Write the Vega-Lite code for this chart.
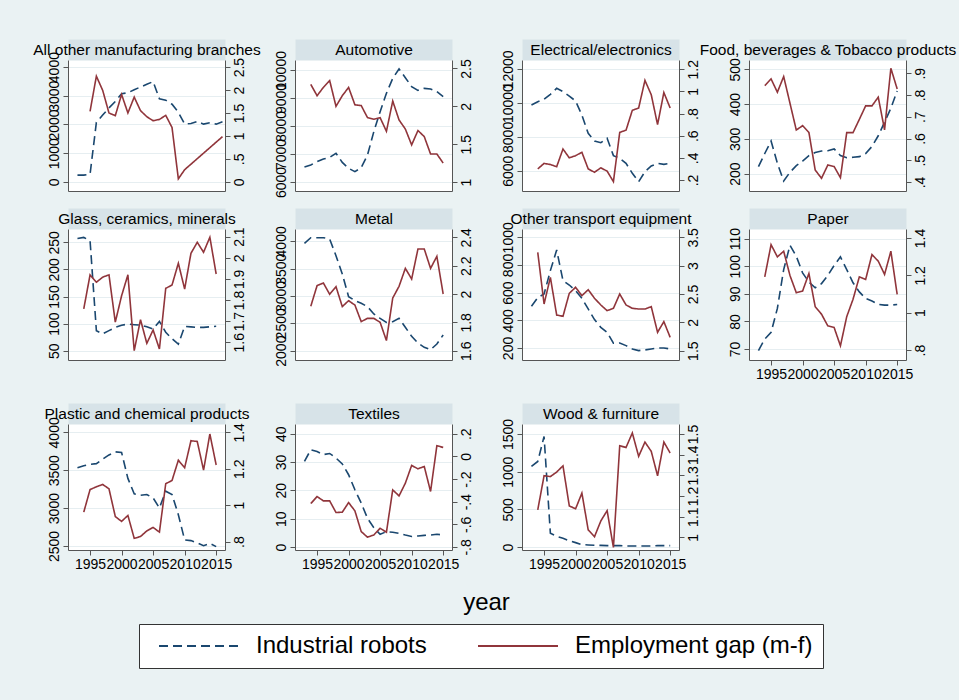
{
"$schema":"https://vega.github.io/schema/vega-lite/v6.json",
"background":"#eaf2f3",
"padding":{"left":21,"top":42,"right":5,"bottom":32},
"config":{"font":"Liberation Sans","view":{"fill":"white","stroke":null},
"axis":{"labelFont":"Liberation Sans","labelColor":"#000","titleFont":"Liberation Sans","titleColor":"#000","domainColor":"#555","tickColor":"#555","titleFontWeight":"normal"},
"legend":{"labelFont":"Liberation Sans","labelColor":"#000"}},
"datasets":{"d":[
{"p":"all","s":"R","yr":1993,"v":235},{"p":"all","s":"R","yr":1994,"v":235},{"p":"all","s":"R","yr":1995,"v":270},{"p":"all","s":"R","yr":1996,"v":2071},{"p":"all","s":"R","yr":1997,"v":2329},{"p":"all","s":"R","yr":1998,"v":2576},{"p":"all","s":"R","yr":1999,"v":2800},{"p":"all","s":"R","yr":2000,"v":3071},{"p":"all","s":"R","yr":2001,"v":3106},{"p":"all","s":"R","yr":2002,"v":3212},{"p":"all","s":"R","yr":2003,"v":3306},{"p":"all","s":"R","yr":2004,"v":3400},{"p":"all","s":"R","yr":2005,"v":3494},{"p":"all","s":"R","yr":2006,"v":2894},{"p":"all","s":"R","yr":2007,"v":2847},{"p":"all","s":"R","yr":2008,"v":2706},{"p":"all","s":"R","yr":2009,"v":2424},{"p":"all","s":"R","yr":2010,"v":2012},{"p":"all","s":"R","yr":2011,"v":2035},{"p":"all","s":"R","yr":2012,"v":2106},{"p":"all","s":"R","yr":2013,"v":2012},{"p":"all","s":"R","yr":2014,"v":2059},{"p":"all","s":"R","yr":2015,"v":2012},{"p":"all","s":"R","yr":2016,"v":2094},
{"p":"all","s":"G","yr":1995,"v":1.537},{"p":"all","s":"G","yr":1996,"v":2.301},{"p":"all","s":"G","yr":1997,"v":1.993},{"p":"all","s":"G","yr":1998,"v":1.5},{"p":"all","s":"G","yr":1999,"v":1.441},{"p":"all","s":"G","yr":2000,"v":1.904},{"p":"all","s":"G","yr":2001,"v":1.5},{"p":"all","s":"G","yr":2002,"v":1.846},{"p":"all","s":"G","yr":2003,"v":1.551},{"p":"all","s":"G","yr":2004,"v":1.419},{"p":"all","s":"G","yr":2005,"v":1.331},{"p":"all","s":"G","yr":2006,"v":1.36},{"p":"all","s":"G","yr":2007,"v":1.449},{"p":"all","s":"G","yr":2008,"v":1.184},{"p":"all","s":"G","yr":2009,"v":0.066},{"p":"all","s":"G","yr":2010,"v":0.265},{"p":"all","s":"G","yr":2016,"v":0.985},
{"p":"auto","s":"R","yr":1993,"v":6536},{"p":"auto","s":"R","yr":1994,"v":6607},{"p":"auto","s":"R","yr":1995,"v":6726},{"p":"auto","s":"R","yr":1996,"v":6821},{"p":"auto","s":"R","yr":1997,"v":6881},{"p":"auto","s":"R","yr":1998,"v":7024},{"p":"auto","s":"R","yr":1999,"v":6702},{"p":"auto","s":"R","yr":2000,"v":6488},{"p":"auto","s":"R","yr":2001,"v":6369},{"p":"auto","s":"R","yr":2002,"v":6512},{"p":"auto","s":"R","yr":2003,"v":6964},{"p":"auto","s":"R","yr":2004,"v":7798},{"p":"auto","s":"R","yr":2005,"v":8512},{"p":"auto","s":"R","yr":2006,"v":9167},{"p":"auto","s":"R","yr":2007,"v":9702},{"p":"auto","s":"R","yr":2008,"v":10036},{"p":"auto","s":"R","yr":2009,"v":9726},{"p":"auto","s":"R","yr":2010,"v":9405},{"p":"auto","s":"R","yr":2011,"v":9274},{"p":"auto","s":"R","yr":2012,"v":9345},{"p":"auto","s":"R","yr":2013,"v":9321},{"p":"auto","s":"R","yr":2014,"v":9226},{"p":"auto","s":"R","yr":2015,"v":9048},
{"p":"auto","s":"G","yr":1994,"v":2.29},{"p":"auto","s":"G","yr":1995,"v":2.14},{"p":"auto","s":"G","yr":1996,"v":2.25},{"p":"auto","s":"G","yr":1997,"v":2.34},{"p":"auto","s":"G","yr":1998,"v":2.0},{"p":"auto","s":"G","yr":1999,"v":2.14},{"p":"auto","s":"G","yr":2000,"v":2.25},{"p":"auto","s":"G","yr":2001,"v":2.02},{"p":"auto","s":"G","yr":2002,"v":2.01},{"p":"auto","s":"G","yr":2003,"v":1.85},{"p":"auto","s":"G","yr":2004,"v":1.83},{"p":"auto","s":"G","yr":2005,"v":1.85},{"p":"auto","s":"G","yr":2006,"v":1.67},{"p":"auto","s":"G","yr":2007,"v":2.07},{"p":"auto","s":"G","yr":2008,"v":1.82},{"p":"auto","s":"G","yr":2009,"v":1.70},{"p":"auto","s":"G","yr":2010,"v":1.49},{"p":"auto","s":"G","yr":2011,"v":1.68},{"p":"auto","s":"G","yr":2012,"v":1.60},{"p":"auto","s":"G","yr":2013,"v":1.37},{"p":"auto","s":"G","yr":2014,"v":1.37},{"p":"auto","s":"G","yr":2015,"v":1.25},
{"p":"elec","s":"R","yr":1993,"v":9890},{"p":"elec","s":"R","yr":1994,"v":10087},{"p":"elec","s":"R","yr":1995,"v":10225},{"p":"elec","s":"R","yr":1996,"v":10521},{"p":"elec","s":"R","yr":1997,"v":10877},{"p":"elec","s":"R","yr":1998,"v":10680},{"p":"elec","s":"R","yr":1999,"v":10420},{"p":"elec","s":"R","yr":2000,"v":10126},{"p":"elec","s":"R","yr":2001,"v":9297},{"p":"elec","s":"R","yr":2002,"v":8211},{"p":"elec","s":"R","yr":2003,"v":7757},{"p":"elec","s":"R","yr":2004,"v":7658},{"p":"elec","s":"R","yr":2005,"v":7915},{"p":"elec","s":"R","yr":2006,"v":6890},{"p":"elec","s":"R","yr":2007,"v":6730},{"p":"elec","s":"R","yr":2008,"v":6434},{"p":"elec","s":"R","yr":2009,"v":5842},{"p":"elec","s":"R","yr":2010,"v":5348},{"p":"elec","s":"R","yr":2011,"v":5940},{"p":"elec","s":"R","yr":2012,"v":6276},{"p":"elec","s":"R","yr":2013,"v":6434},{"p":"elec","s":"R","yr":2014,"v":6375},{"p":"elec","s":"R","yr":2015,"v":6434},
{"p":"elec","s":"G","yr":1994,"v":0.30},{"p":"elec","s":"G","yr":1995,"v":0.35},{"p":"elec","s":"G","yr":1996,"v":0.34},{"p":"elec","s":"G","yr":1997,"v":0.32},{"p":"elec","s":"G","yr":1998,"v":0.48},{"p":"elec","s":"G","yr":1999,"v":0.40},{"p":"elec","s":"G","yr":2000,"v":0.42},{"p":"elec","s":"G","yr":2001,"v":0.45},{"p":"elec","s":"G","yr":2002,"v":0.30},{"p":"elec","s":"G","yr":2003,"v":0.27},{"p":"elec","s":"G","yr":2004,"v":0.31},{"p":"elec","s":"G","yr":2005,"v":0.28},{"p":"elec","s":"G","yr":2006,"v":0.185},{"p":"elec","s":"G","yr":2007,"v":0.63},{"p":"elec","s":"G","yr":2008,"v":0.65},{"p":"elec","s":"G","yr":2009,"v":0.83},{"p":"elec","s":"G","yr":2010,"v":0.85},{"p":"elec","s":"G","yr":2011,"v":1.10},{"p":"elec","s":"G","yr":2012,"v":0.97},{"p":"elec","s":"G","yr":2013,"v":0.70},{"p":"elec","s":"G","yr":2014,"v":0.99},{"p":"elec","s":"G","yr":2015,"v":0.85},
{"p":"food","s":"R","yr":1993,"v":220},{"p":"food","s":"R","yr":1994,"v":258},{"p":"food","s":"R","yr":1995,"v":294},{"p":"food","s":"R","yr":1996,"v":230},{"p":"food","s":"R","yr":1997,"v":179},{"p":"food","s":"R","yr":1998,"v":204},{"p":"food","s":"R","yr":1999,"v":223},{"p":"food","s":"R","yr":2000,"v":236},{"p":"food","s":"R","yr":2001,"v":252},{"p":"food","s":"R","yr":2002,"v":261},{"p":"food","s":"R","yr":2003,"v":265},{"p":"food","s":"R","yr":2004,"v":266},{"p":"food","s":"R","yr":2005,"v":271},{"p":"food","s":"R","yr":2006,"v":252},{"p":"food","s":"R","yr":2007,"v":246},{"p":"food","s":"R","yr":2008,"v":247},{"p":"food","s":"R","yr":2009,"v":249},{"p":"food","s":"R","yr":2010,"v":258},{"p":"food","s":"R","yr":2011,"v":278},{"p":"food","s":"R","yr":2012,"v":309},{"p":"food","s":"R","yr":2013,"v":348},{"p":"food","s":"R","yr":2014,"v":388},{"p":"food","s":"R","yr":2015,"v":438},
{"p":"food","s":"G","yr":1994,"v":0.843},{"p":"food","s":"G","yr":1995,"v":0.874},{"p":"food","s":"G","yr":1996,"v":0.813},{"p":"food","s":"G","yr":1997,"v":0.885},{"p":"food","s":"G","yr":1998,"v":0.762},{"p":"food","s":"G","yr":1999,"v":0.639},{"p":"food","s":"G","yr":2000,"v":0.659},{"p":"food","s":"G","yr":2001,"v":0.628},{"p":"food","s":"G","yr":2002,"v":0.455},{"p":"food","s":"G","yr":2003,"v":0.417},{"p":"food","s":"G","yr":2004,"v":0.478},{"p":"food","s":"G","yr":2005,"v":0.471},{"p":"food","s":"G","yr":2006,"v":0.42},{"p":"food","s":"G","yr":2007,"v":0.627},{"p":"food","s":"G","yr":2008,"v":0.627},{"p":"food","s":"G","yr":2009,"v":0.688},{"p":"food","s":"G","yr":2010,"v":0.75},{"p":"food","s":"G","yr":2011,"v":0.75},{"p":"food","s":"G","yr":2012,"v":0.79},{"p":"food","s":"G","yr":2013,"v":0.64},{"p":"food","s":"G","yr":2014,"v":0.923},{"p":"food","s":"G","yr":2015,"v":0.828},
{"p":"glass","s":"R","yr":1993,"v":257},{"p":"glass","s":"R","yr":1994,"v":259},{"p":"glass","s":"R","yr":1995,"v":253},{"p":"glass","s":"R","yr":1996,"v":87},{"p":"glass","s":"R","yr":1997,"v":81},{"p":"glass","s":"R","yr":1998,"v":87},{"p":"glass","s":"R","yr":1999,"v":93},{"p":"glass","s":"R","yr":2000,"v":97},{"p":"glass","s":"R","yr":2001,"v":99},{"p":"glass","s":"R","yr":2002,"v":98},{"p":"glass","s":"R","yr":2003,"v":97},{"p":"glass","s":"R","yr":2004,"v":94},{"p":"glass","s":"R","yr":2005,"v":90},{"p":"glass","s":"R","yr":2006,"v":104},{"p":"glass","s":"R","yr":2007,"v":84},{"p":"glass","s":"R","yr":2008,"v":72},{"p":"glass","s":"R","yr":2009,"v":62},{"p":"glass","s":"R","yr":2010,"v":95},{"p":"glass","s":"R","yr":2011,"v":94},{"p":"glass","s":"R","yr":2012,"v":93},{"p":"glass","s":"R","yr":2013,"v":93},{"p":"glass","s":"R","yr":2014,"v":94},{"p":"glass","s":"R","yr":2015,"v":95},
{"p":"glass","s":"G","yr":1994,"v":1.758},{"p":"glass","s":"G","yr":1995,"v":1.919},{"p":"glass","s":"G","yr":1996,"v":1.884},{"p":"glass","s":"G","yr":1997,"v":1.908},{"p":"glass","s":"G","yr":1998,"v":1.919},{"p":"glass","s":"G","yr":1999,"v":1.695},{"p":"glass","s":"G","yr":2000,"v":1.82},{"p":"glass","s":"G","yr":2001,"v":1.919},{"p":"glass","s":"G","yr":2002,"v":1.56},{"p":"glass","s":"G","yr":2003,"v":1.707},{"p":"glass","s":"G","yr":2004,"v":1.595},{"p":"glass","s":"G","yr":2005,"v":1.658},{"p":"glass","s":"G","yr":2006,"v":1.568},{"p":"glass","s":"G","yr":2007,"v":1.855},{"p":"glass","s":"G","yr":2008,"v":1.871},{"p":"glass","s":"G","yr":2009,"v":1.974},{"p":"glass","s":"G","yr":2010,"v":1.852},{"p":"glass","s":"G","yr":2011,"v":2.021},{"p":"glass","s":"G","yr":2012,"v":2.073},{"p":"glass","s":"G","yr":2013,"v":2.026},{"p":"glass","s":"G","yr":2014,"v":2.097},{"p":"glass","s":"G","yr":2015,"v":1.923},
{"p":"metal","s":"R","yr":1993,"v":3963},{"p":"metal","s":"R","yr":1994,"v":4067},{"p":"metal","s":"R","yr":1995,"v":4067},{"p":"metal","s":"R","yr":1996,"v":4067},{"p":"metal","s":"R","yr":1997,"v":4043},{"p":"metal","s":"R","yr":1998,"v":3738},{"p":"metal","s":"R","yr":1999,"v":3402},{"p":"metal","s":"R","yr":2000,"v":2988},{"p":"metal","s":"R","yr":2001,"v":2915},{"p":"metal","s":"R","yr":2002,"v":2866},{"p":"metal","s":"R","yr":2003,"v":2805},{"p":"metal","s":"R","yr":2004,"v":2671},{"p":"metal","s":"R","yr":2005,"v":2591},{"p":"metal","s":"R","yr":2006,"v":2518},{"p":"metal","s":"R","yr":2007,"v":2530},{"p":"metal","s":"R","yr":2008,"v":2591},{"p":"metal","s":"R","yr":2009,"v":2427},{"p":"metal","s":"R","yr":2010,"v":2262},{"p":"metal","s":"R","yr":2011,"v":2140},{"p":"metal","s":"R","yr":2012,"v":2061},{"p":"metal","s":"R","yr":2013,"v":2018},{"p":"metal","s":"R","yr":2014,"v":2122},{"p":"metal","s":"R","yr":2015,"v":2287},
{"p":"metal","s":"G","yr":1994,"v":1.913},{"p":"metal","s":"G","yr":1995,"v":2.059},{"p":"metal","s":"G","yr":1996,"v":2.078},{"p":"metal","s":"G","yr":1997,"v":1.998},{"p":"metal","s":"G","yr":1998,"v":2.052},{"p":"metal","s":"G","yr":1999,"v":1.911},{"p":"metal","s":"G","yr":2000,"v":1.953},{"p":"metal","s":"G","yr":2001,"v":1.922},{"p":"metal","s":"G","yr":2002,"v":1.805},{"p":"metal","s":"G","yr":2003,"v":1.828},{"p":"metal","s":"G","yr":2004,"v":1.828},{"p":"metal","s":"G","yr":2005,"v":1.80},{"p":"metal","s":"G","yr":2006,"v":1.671},{"p":"metal","s":"G","yr":2007,"v":1.972},{"p":"metal","s":"G","yr":2008,"v":2.054},{"p":"metal","s":"G","yr":2009,"v":2.181},{"p":"metal","s":"G","yr":2010,"v":2.106},{"p":"metal","s":"G","yr":2011,"v":2.318},{"p":"metal","s":"G","yr":2012,"v":2.318},{"p":"metal","s":"G","yr":2013,"v":2.181},{"p":"metal","s":"G","yr":2014,"v":2.266},{"p":"metal","s":"G","yr":2015,"v":2.0},
{"p":"trans","s":"R","yr":1993,"v":501},{"p":"trans","s":"R","yr":1994,"v":564},{"p":"trans","s":"R","yr":1995,"v":590},{"p":"trans","s":"R","yr":1996,"v":759},{"p":"trans","s":"R","yr":1997,"v":908},{"p":"trans","s":"R","yr":1998,"v":687},{"p":"trans","s":"R","yr":1999,"v":655},{"p":"trans","s":"R","yr":2000,"v":614},{"p":"trans","s":"R","yr":2001,"v":559},{"p":"trans","s":"R","yr":2002,"v":482},{"p":"trans","s":"R","yr":2003,"v":405},{"p":"trans","s":"R","yr":2004,"v":349},{"p":"trans","s":"R","yr":2005,"v":313},{"p":"trans","s":"R","yr":2006,"v":234},{"p":"trans","s":"R","yr":2007,"v":236},{"p":"trans","s":"R","yr":2008,"v":217},{"p":"trans","s":"R","yr":2009,"v":193},{"p":"trans","s":"R","yr":2010,"v":181},{"p":"trans","s":"R","yr":2011,"v":186},{"p":"trans","s":"R","yr":2012,"v":193},{"p":"trans","s":"R","yr":2013,"v":200},{"p":"trans","s":"R","yr":2014,"v":200},{"p":"trans","s":"R","yr":2015,"v":193},
{"p":"trans","s":"G","yr":1994,"v":3.235},{"p":"trans","s":"G","yr":1995,"v":2.324},{"p":"trans","s":"G","yr":1996,"v":2.794},{"p":"trans","s":"G","yr":1997,"v":2.129},{"p":"trans","s":"G","yr":1998,"v":2.106},{"p":"trans","s":"G","yr":1999,"v":2.512},{"p":"trans","s":"G","yr":2000,"v":2.618},{"p":"trans","s":"G","yr":2001,"v":2.47},{"p":"trans","s":"G","yr":2002,"v":2.576},{"p":"trans","s":"G","yr":2003,"v":2.424},{"p":"trans","s":"G","yr":2004,"v":2.306},{"p":"trans","s":"G","yr":2005,"v":2.206},{"p":"trans","s":"G","yr":2006,"v":2.247},{"p":"trans","s":"G","yr":2007,"v":2.5},{"p":"trans","s":"G","yr":2008,"v":2.306},{"p":"trans","s":"G","yr":2009,"v":2.247},{"p":"trans","s":"G","yr":2010,"v":2.235},{"p":"trans","s":"G","yr":2011,"v":2.235},{"p":"trans","s":"G","yr":2012,"v":2.276},{"p":"trans","s":"G","yr":2013,"v":1.824},{"p":"trans","s":"G","yr":2014,"v":2.012},{"p":"trans","s":"G","yr":2015,"v":1.735},
{"p":"paper","s":"R","yr":1993,"v":69.4},{"p":"paper","s":"R","yr":1994,"v":73.6},{"p":"paper","s":"R","yr":1995,"v":76.0},{"p":"paper","s":"R","yr":1996,"v":84.7},{"p":"paper","s":"R","yr":1997,"v":98.8},{"p":"paper","s":"R","yr":1998,"v":107.6},{"p":"paper","s":"R","yr":1999,"v":103.6},{"p":"paper","s":"R","yr":2000,"v":97.6},{"p":"paper","s":"R","yr":2001,"v":94.3},{"p":"paper","s":"R","yr":2002,"v":92.2},{"p":"paper","s":"R","yr":2003,"v":93.7},{"p":"paper","s":"R","yr":2004,"v":96.7},{"p":"paper","s":"R","yr":2005,"v":100.3},{"p":"paper","s":"R","yr":2006,"v":103.4},{"p":"paper","s":"R","yr":2007,"v":98.8},{"p":"paper","s":"R","yr":2008,"v":94.0},{"p":"paper","s":"R","yr":2009,"v":90.7},{"p":"paper","s":"R","yr":2010,"v":88.3},{"p":"paper","s":"R","yr":2011,"v":87.4},{"p":"paper","s":"R","yr":2012,"v":86.2},{"p":"paper","s":"R","yr":2013,"v":85.9},{"p":"paper","s":"R","yr":2014,"v":85.9},{"p":"paper","s":"R","yr":2015,"v":86.1},
{"p":"paper","s":"G","yr":1994,"v":1.192},{"p":"paper","s":"G","yr":1995,"v":1.364},{"p":"paper","s":"G","yr":1996,"v":1.299},{"p":"paper","s":"G","yr":1997,"v":1.329},{"p":"paper","s":"G","yr":1998,"v":1.199},{"p":"paper","s":"G","yr":1999,"v":1.107},{"p":"paper","s":"G","yr":2000,"v":1.116},{"p":"paper","s":"G","yr":2001,"v":1.21},{"p":"paper","s":"G","yr":2002,"v":1.032},{"p":"paper","s":"G","yr":2003,"v":0.992},{"p":"paper","s":"G","yr":2004,"v":0.93},{"p":"paper","s":"G","yr":2005,"v":0.921},{"p":"paper","s":"G","yr":2006,"v":0.823},{"p":"paper","s":"G","yr":2007,"v":0.979},{"p":"paper","s":"G","yr":2008,"v":1.072},{"p":"paper","s":"G","yr":2009,"v":1.192},{"p":"paper","s":"G","yr":2010,"v":1.178},{"p":"paper","s":"G","yr":2011,"v":1.311},{"p":"paper","s":"G","yr":2012,"v":1.276},{"p":"paper","s":"G","yr":2013,"v":1.205},{"p":"paper","s":"G","yr":2014,"v":1.329},{"p":"paper","s":"G","yr":2015,"v":1.098},
{"p":"plast","s":"R","yr":1993,"v":3534},{"p":"plast","s":"R","yr":1994,"v":3560},{"p":"plast","s":"R","yr":1995,"v":3578},{"p":"plast","s":"R","yr":1996,"v":3587},{"p":"plast","s":"R","yr":1997,"v":3645},{"p":"plast","s":"R","yr":1998,"v":3702},{"p":"plast","s":"R","yr":1999,"v":3742},{"p":"plast","s":"R","yr":2000,"v":3733},{"p":"plast","s":"R","yr":2001,"v":3392},{"p":"plast","s":"R","yr":2002,"v":3188},{"p":"plast","s":"R","yr":2003,"v":3170},{"p":"plast","s":"R","yr":2004,"v":3179},{"p":"plast","s":"R","yr":2005,"v":3134},{"p":"plast","s":"R","yr":2006,"v":3001},{"p":"plast","s":"R","yr":2007,"v":3223},{"p":"plast","s":"R","yr":2008,"v":3179},{"p":"plast","s":"R","yr":2009,"v":2913},{"p":"plast","s":"R","yr":2010,"v":2580},{"p":"plast","s":"R","yr":2011,"v":2571},{"p":"plast","s":"R","yr":2012,"v":2540},{"p":"plast","s":"R","yr":2013,"v":2504},{"p":"plast","s":"R","yr":2014,"v":2535},{"p":"plast","s":"R","yr":2015,"v":2491},
{"p":"plast","s":"G","yr":1994,"v":0.962},{"p":"plast","s":"G","yr":1995,"v":1.086},{"p":"plast","s":"G","yr":1996,"v":1.101},{"p":"plast","s":"G","yr":1997,"v":1.114},{"p":"plast","s":"G","yr":1998,"v":1.090},{"p":"plast","s":"G","yr":1999,"v":0.938},{"p":"plast","s":"G","yr":2000,"v":0.911},{"p":"plast","s":"G","yr":2001,"v":0.944},{"p":"plast","s":"G","yr":2002,"v":0.818},{"p":"plast","s":"G","yr":2003,"v":0.828},{"p":"plast","s":"G","yr":2004,"v":0.859},{"p":"plast","s":"G","yr":2005,"v":0.878},{"p":"plast","s":"G","yr":2006,"v":0.852},{"p":"plast","s":"G","yr":2007,"v":1.118},{"p":"plast","s":"G","yr":2008,"v":1.136},{"p":"plast","s":"G","yr":2009,"v":1.247},{"p":"plast","s":"G","yr":2010,"v":1.206},{"p":"plast","s":"G","yr":2011,"v":1.354},{"p":"plast","s":"G","yr":2012,"v":1.350},{"p":"plast","s":"G","yr":2013,"v":1.193},{"p":"plast","s":"G","yr":2014,"v":1.391},{"p":"plast","s":"G","yr":2015,"v":1.221},
{"p":"text","s":"R","yr":1993,"v":30.2},{"p":"text","s":"R","yr":1994,"v":34.3},{"p":"text","s":"R","yr":1995,"v":33.7},{"p":"text","s":"R","yr":1996,"v":32.6},{"p":"text","s":"R","yr":1997,"v":33.0},{"p":"text","s":"R","yr":1998,"v":31.4},{"p":"text","s":"R","yr":1999,"v":29.3},{"p":"text","s":"R","yr":2000,"v":25.5},{"p":"text","s":"R","yr":2001,"v":20.2},{"p":"text","s":"R","yr":2002,"v":15.5},{"p":"text","s":"R","yr":2003,"v":10.1},{"p":"text","s":"R","yr":2004,"v":6.8},{"p":"text","s":"R","yr":2005,"v":4.5},{"p":"text","s":"R","yr":2006,"v":5.4},{"p":"text","s":"R","yr":2007,"v":5.2},{"p":"text","s":"R","yr":2008,"v":4.8},{"p":"text","s":"R","yr":2009,"v":4.2},{"p":"text","s":"R","yr":2010,"v":3.7},{"p":"text","s":"R","yr":2011,"v":3.9},{"p":"text","s":"R","yr":2012,"v":4.1},{"p":"text","s":"R","yr":2013,"v":4.2},{"p":"text","s":"R","yr":2014,"v":4.5},{"p":"text","s":"R","yr":2015,"v":4.2},
{"p":"text","s":"G","yr":1994,"v":-0.417},{"p":"text","s":"G","yr":1995,"v":-0.355},{"p":"text","s":"G","yr":1996,"v":-0.393},{"p":"text","s":"G","yr":1997,"v":-0.393},{"p":"text","s":"G","yr":1998,"v":-0.496},{"p":"text","s":"G","yr":1999,"v":-0.493},{"p":"text","s":"G","yr":2000,"v":-0.408},{"p":"text","s":"G","yr":2001,"v":-0.481},{"p":"text","s":"G","yr":2002,"v":-0.664},{"p":"text","s":"G","yr":2003,"v":-0.714},{"p":"text","s":"G","yr":2004,"v":-0.694},{"p":"text","s":"G","yr":2005,"v":-0.635},{"p":"text","s":"G","yr":2006,"v":-0.670},{"p":"text","s":"G","yr":2007,"v":-0.296},{"p":"text","s":"G","yr":2008,"v":-0.349},{"p":"text","s":"G","yr":2009,"v":-0.237},{"p":"text","s":"G","yr":2010,"v":-0.08},{"p":"text","s":"G","yr":2011,"v":-0.11},{"p":"text","s":"G","yr":2012,"v":-0.089},{"p":"text","s":"G","yr":2013,"v":-0.310},{"p":"text","s":"G","yr":2014,"v":0.094},{"p":"text","s":"G","yr":2015,"v":0.079},
{"p":"wood","s":"R","yr":1993,"v":1069},{"p":"wood","s":"R","yr":1994,"v":1136},{"p":"wood","s":"R","yr":1995,"v":1468},{"p":"wood","s":"R","yr":1996,"v":182},{"p":"wood","s":"R","yr":1997,"v":142},{"p":"wood","s":"R","yr":1998,"v":115},{"p":"wood","s":"R","yr":1999,"v":84},{"p":"wood","s":"R","yr":2000,"v":58},{"p":"wood","s":"R","yr":2001,"v":31},{"p":"wood","s":"R","yr":2002,"v":27},{"p":"wood","s":"R","yr":2003,"v":22},{"p":"wood","s":"R","yr":2004,"v":22},{"p":"wood","s":"R","yr":2005,"v":18},{"p":"wood","s":"R","yr":2006,"v":18},{"p":"wood","s":"R","yr":2007,"v":18},{"p":"wood","s":"R","yr":2008,"v":13},{"p":"wood","s":"R","yr":2009,"v":13},{"p":"wood","s":"R","yr":2010,"v":13},{"p":"wood","s":"R","yr":2011,"v":13},{"p":"wood","s":"R","yr":2012,"v":13},{"p":"wood","s":"R","yr":2013,"v":18},{"p":"wood","s":"R","yr":2014,"v":18},{"p":"wood","s":"R","yr":2015,"v":18},
{"p":"wood","s":"G","yr":1994,"v":1.133},{"p":"wood","s":"G","yr":1995,"v":1.298},{"p":"wood","s":"G","yr":1996,"v":1.294},{"p":"wood","s":"G","yr":1997,"v":1.316},{"p":"wood","s":"G","yr":1998,"v":1.346},{"p":"wood","s":"G","yr":1999,"v":1.152},{"p":"wood","s":"G","yr":2000,"v":1.138},{"p":"wood","s":"G","yr":2001,"v":1.214},{"p":"wood","s":"G","yr":2002,"v":1.036},{"p":"wood","s":"G","yr":2003,"v":1.003},{"p":"wood","s":"G","yr":2004,"v":1.079},{"p":"wood","s":"G","yr":2005,"v":1.129},{"p":"wood","s":"G","yr":2006,"v":0.951},{"p":"wood","s":"G","yr":2007,"v":1.443},{"p":"wood","s":"G","yr":2008,"v":1.435},{"p":"wood","s":"G","yr":2009,"v":1.505},{"p":"wood","s":"G","yr":2010,"v":1.392},{"p":"wood","s":"G","yr":2011,"v":1.461},{"p":"wood","s":"G","yr":2012,"v":1.416},{"p":"wood","s":"G","yr":2013,"v":1.298},{"p":"wood","s":"G","yr":2014,"v":1.461},{"p":"wood","s":"G","yr":2015,"v":1.408}
]},
"spacing":13,
"vconcat":[
{"hconcat":[
{"width":157,"height":131,"layer":[
{"data":{"name":"d"},"transform":[{"filter":"datum.p=='all'&&datum.s=='R'"}],"mark":{"type":"line","strokeWidth":1.6},
"encoding":{"x":{"field":"yr","type":"quantitative","scale":{"domain":[1991.5,2016.4],"nice":false,"zero":false},"axis":{"orient":"bottom","ticks":false,"labels":false,"grid":false,"title":null}},
"y":{"field":"v","type":"quantitative","scale":{"domain":[-318,4247],"nice":false,"zero":false},"axis":{"orient":"left","values":[0,1000,2000,3000,4000],"labelExpr":"replace(toString(datum.value),'0.','.')","labelAngle":270,"labelAlign":"center","labelBaseline":"bottom","labelFontSize":14,"labelOverlap":false,"labelFlush":false,"labelPadding":2,"tickSize":5,"grid":true,"gridColor":"#e6eef1","title":"x","titleColor":"rgba(0,0,0,0)","titleFontSize":10,"titlePadding":15}},
"color":{"field":"s","type":"nominal","scale":{"domain":["R","G"],"range":["#1a476f","#90353b"]},"legend":{"orient":"none","legendX":71,"legendY":564,"direction":"horizontal","title":null,"symbolType":"M-0.2,0H7.8","symbolSize":400,"symbolStrokeWidth":2,"labelFontSize":24,"labelLimit":500,"labelOffset":83,"columnPadding":41,"padding":10,"strokeColor":"#333","fillColor":"white","labelExpr":"datum.label=='R'?'Industrial robots':'Employment gap (m-f)\u00a0\u00a0\u00a0\u00a0'"}},
"strokeDash":{"field":"s","type":"nominal","scale":{"domain":["R","G"],"range":[[9,5],[1,0]]},"legend":{"orient":"none","legendX":71,"legendY":564,"direction":"horizontal","title":null,"symbolType":"M-0.2,0H7.8","symbolSize":400,"symbolStrokeWidth":2,"labelFontSize":24,"labelLimit":500,"labelOffset":83,"columnPadding":41,"padding":10,"strokeColor":"#333","fillColor":"white","labelExpr":"datum.label=='R'?'Industrial robots':'Employment gap (m-f)\u00a0\u00a0\u00a0\u00a0'"}}}},
{"data":{"name":"d"},"transform":[{"filter":"datum.p=='all'&&datum.s=='G'"}],"mark":{"type":"line","strokeWidth":1.6},
"encoding":{"x":{"field":"yr","type":"quantitative","scale":{"domain":[1991.5,2016.4],"nice":false,"zero":false},"axis":{"orient":"top","offset":10.5,"domainWidth":21,"domainColor":"#d7e3e8","domainCap":"butt","ticks":false,"labels":false,"grid":false,"title":"All other manufacturing branches","titleFontSize":15.5,"titleY":0,"titleBaseline":"middle","titleLimit":1000}},
"y":{"field":"v","type":"quantitative","scale":{"domain":[-0.199,2.654],"nice":false,"zero":false},"axis":{"orient":"right","values":[0,0.5,1,1.5,2,2.5],"labelExpr":"replace(toString(datum.value),'0.','.')","labelAngle":270,"labelAlign":"center","labelBaseline":"top","labelFontSize":14,"labelOverlap":false,"labelFlush":false,"labelPadding":2,"tickSize":5,"grid":false,"title":null}},
"color":{"field":"s","type":"nominal"},"strokeDash":{"field":"s","type":"nominal"}}}
],"resolve":{"scale":{"y":"independent"},"axis":{"x":"independent"}}},
{"width":157,"height":131,"layer":[
{"data":{"name":"d"},"transform":[{"filter":"datum.p=='auto'&&datum.s=='R'"}],"mark":{"type":"line","strokeWidth":1.6},
"encoding":{"x":{"field":"yr","type":"quantitative","scale":{"domain":[1991.5,2016.4],"nice":false,"zero":false},"axis":{"orient":"bottom","ticks":false,"labels":false,"grid":false,"title":null}},
"y":{"field":"v","type":"quantitative","scale":{"domain":[5679,10357],"nice":false,"zero":false},"axis":{"orient":"left","values":[6000,7000,8000,9000,10000],"labelExpr":"replace(toString(datum.value),'0.','.')","labelAngle":270,"labelAlign":"center","labelBaseline":"bottom","labelFontSize":14,"labelOverlap":false,"labelFlush":false,"labelPadding":2,"tickSize":5,"grid":true,"gridColor":"#e6eef1","title":null}},
"color":{"field":"s","type":"nominal"},"strokeDash":{"field":"s","type":"nominal"}}},
{"data":{"name":"d"},"transform":[{"filter":"datum.p=='auto'&&datum.s=='G'"}],"mark":{"type":"line","strokeWidth":1.6},
"encoding":{"x":{"field":"yr","type":"quantitative","scale":{"domain":[1991.5,2016.4],"nice":false,"zero":false},"axis":{"orient":"top","offset":10.5,"domainWidth":21,"domainColor":"#d7e3e8","domainCap":"butt","ticks":false,"labels":false,"grid":false,"title":"Automotive","titleFontSize":15.5,"titleY":0,"titleBaseline":"middle","titleLimit":1000}},
"y":{"field":"v","type":"quantitative","scale":{"domain":[0.881,2.612],"nice":false,"zero":false},"axis":{"orient":"right","values":[1,1.5,2,2.5],"labelExpr":"replace(toString(datum.value),'0.','.')","labelAngle":270,"labelAlign":"center","labelBaseline":"top","labelFontSize":14,"labelOverlap":false,"labelFlush":false,"labelPadding":2,"tickSize":5,"grid":false,"title":null}},
"color":{"field":"s","type":"nominal"},"strokeDash":{"field":"s","type":"nominal"}}}
],"resolve":{"scale":{"y":"independent"},"axis":{"x":"independent"}}},
{"width":157,"height":131,"layer":[
{"data":{"name":"d"},"transform":[{"filter":"datum.p=='elec'&&datum.s=='R'"}],"mark":{"type":"line","strokeWidth":1.6},
"encoding":{"x":{"field":"yr","type":"quantitative","scale":{"domain":[1991.5,2016.4],"nice":false,"zero":false},"axis":{"orient":"bottom","ticks":false,"labels":false,"grid":false,"title":null}},
"y":{"field":"v","type":"quantitative","scale":{"domain":[4796,12555],"nice":false,"zero":false},"axis":{"orient":"left","values":[6000,8000,10000,12000],"labelExpr":"replace(toString(datum.value),'0.','.')","labelAngle":270,"labelAlign":"center","labelBaseline":"bottom","labelFontSize":14,"labelOverlap":false,"labelFlush":false,"labelPadding":2,"tickSize":5,"grid":true,"gridColor":"#e6eef1","title":null}},
"color":{"field":"s","type":"nominal"},"strokeDash":{"field":"s","type":"nominal"}}},
{"data":{"name":"d"},"transform":[{"filter":"datum.p=='elec'&&datum.s=='G'"}],"mark":{"type":"line","strokeWidth":1.6},
"encoding":{"x":{"field":"yr","type":"quantitative","scale":{"domain":[1991.5,2016.4],"nice":false,"zero":false},"axis":{"orient":"top","offset":10.5,"domainWidth":21,"domainColor":"#d7e3e8","domainCap":"butt","ticks":false,"labels":false,"grid":false,"title":"Electrical/electronics","titleFontSize":15.5,"titleY":0,"titleBaseline":"middle","titleLimit":1000}},
"y":{"field":"v","type":"quantitative","scale":{"domain":[0.1006,1.284],"nice":false,"zero":false},"axis":{"orient":"right","values":[0.2,0.4,0.6,0.8,1,1.2],"labelExpr":"replace(toString(datum.value),'0.','.')","labelAngle":270,"labelAlign":"center","labelBaseline":"top","labelFontSize":14,"labelOverlap":false,"labelFlush":false,"labelPadding":2,"tickSize":5,"grid":false,"title":null}},
"color":{"field":"s","type":"nominal"},"strokeDash":{"field":"s","type":"nominal"}}}
],"resolve":{"scale":{"y":"independent"},"axis":{"x":"independent"}}},
{"width":157,"height":131,"layer":[
{"data":{"name":"d"},"transform":[{"filter":"datum.p=='food'&&datum.s=='R'"}],"mark":{"type":"line","strokeWidth":1.6},
"encoding":{"x":{"field":"yr","type":"quantitative","scale":{"domain":[1991.5,2016.4],"nice":false,"zero":false},"axis":{"orient":"bottom","ticks":false,"labels":false,"grid":false,"title":null}},
"y":{"field":"v","type":"quantitative","scale":{"domain":[150.1,526.9],"nice":false,"zero":false},"axis":{"orient":"left","values":[200,300,400,500],"labelExpr":"replace(toString(datum.value),'0.','.')","labelAngle":270,"labelAlign":"center","labelBaseline":"bottom","labelFontSize":14,"labelOverlap":false,"labelFlush":false,"labelPadding":2,"tickSize":5,"grid":true,"gridColor":"#e6eef1","title":null}},
"color":{"field":"s","type":"nominal"},"strokeDash":{"field":"s","type":"nominal"}}},
{"data":{"name":"d"},"transform":[{"filter":"datum.p=='food'&&datum.s=='G'"}],"mark":{"type":"line","strokeWidth":1.6},
"encoding":{"x":{"field":"yr","type":"quantitative","scale":{"domain":[1991.5,2016.4],"nice":false,"zero":false},"axis":{"orient":"top","offset":10.5,"domainWidth":21,"domainColor":"#d7e3e8","domainCap":"butt","ticks":false,"labels":false,"grid":false,"title":"Food, beverages & Tobacco products","titleFontSize":15.5,"titleY":0,"titleBaseline":"middle","titleLimit":1000}},
"y":{"field":"v","type":"quantitative","scale":{"domain":[0.3586,0.961],"nice":false,"zero":false},"axis":{"orient":"right","values":[0.4,0.5,0.6,0.7,0.8,0.9],"labelExpr":"replace(toString(datum.value),'0.','.')","labelAngle":270,"labelAlign":"center","labelBaseline":"top","labelFontSize":14,"labelOverlap":false,"labelFlush":false,"labelPadding":2,"tickSize":5,"grid":false,"title":null}},
"color":{"field":"s","type":"nominal"},"strokeDash":{"field":"s","type":"nominal"}}}
],"resolve":{"scale":{"y":"independent"},"axis":{"x":"independent"}}}
],"spacing":70,"bounds":"flush"},
{"hconcat":[
{"width":157,"height":131,"layer":[
{"data":{"name":"d"},"transform":[{"filter":"datum.p=='glass'&&datum.s=='R'"}],"mark":{"type":"line","strokeWidth":1.6},
"encoding":{"x":{"field":"yr","type":"quantitative","scale":{"domain":[1991.5,2016.4],"nice":false,"zero":false},"axis":{"orient":"bottom","ticks":false,"labels":false,"grid":false,"title":null}},
"y":{"field":"v","type":"quantitative","scale":{"domain":[32.8,274.6],"nice":false,"zero":false},"axis":{"orient":"left","values":[50,100,150,200,250],"labelExpr":"replace(toString(datum.value),'0.','.')","labelAngle":270,"labelAlign":"center","labelBaseline":"bottom","labelFontSize":14,"labelOverlap":false,"labelFlush":false,"labelPadding":2,"tickSize":5,"grid":true,"gridColor":"#e6eef1","title":"x","titleColor":"rgba(0,0,0,0)","titleFontSize":10,"titlePadding":15}},
"color":{"field":"s","type":"nominal"},"strokeDash":{"field":"s","type":"nominal"}}},
{"data":{"name":"d"},"transform":[{"filter":"datum.p=='glass'&&datum.s=='G'"}],"mark":{"type":"line","strokeWidth":1.6},
"encoding":{"x":{"field":"yr","type":"quantitative","scale":{"domain":[1991.5,2016.4],"nice":false,"zero":false},"axis":{"orient":"top","offset":10.5,"domainWidth":21,"domainColor":"#d7e3e8","domainCap":"butt","ticks":false,"labels":false,"grid":false,"title":"Glass, ceramics, minerals","titleFontSize":15.5,"titleY":0,"titleBaseline":"middle","titleLimit":1000}},
"y":{"field":"v","type":"quantitative","scale":{"domain":[1.516,2.136],"nice":false,"zero":false},"axis":{"orient":"right","values":[1.6,1.7,1.8,1.9,2,2.1],"labelExpr":"replace(toString(datum.value),'0.','.')","labelAngle":270,"labelAlign":"center","labelBaseline":"top","labelFontSize":14,"labelOverlap":false,"labelFlush":false,"labelPadding":2,"tickSize":5,"grid":false,"title":null}},
"color":{"field":"s","type":"nominal"},"strokeDash":{"field":"s","type":"nominal"}}}
],"resolve":{"scale":{"y":"independent"},"axis":{"x":"independent"}}},
{"width":157,"height":131,"layer":[
{"data":{"name":"d"},"transform":[{"filter":"datum.p=='metal'&&datum.s=='R'"}],"mark":{"type":"line","strokeWidth":1.6},
"encoding":{"x":{"field":"yr","type":"quantitative","scale":{"domain":[1991.5,2016.4],"nice":false,"zero":false},"axis":{"orient":"bottom","ticks":false,"labels":false,"grid":false,"title":null}},
"y":{"field":"v","type":"quantitative","scale":{"domain":[1829,4226],"nice":false,"zero":false},"axis":{"orient":"left","values":[2000,2500,3000,3500,4000],"labelExpr":"replace(toString(datum.value),'0.','.')","labelAngle":270,"labelAlign":"center","labelBaseline":"bottom","labelFontSize":14,"labelOverlap":false,"labelFlush":false,"labelPadding":2,"tickSize":5,"grid":true,"gridColor":"#e6eef1","title":null}},
"color":{"field":"s","type":"nominal"},"strokeDash":{"field":"s","type":"nominal"}}},
{"data":{"name":"d"},"transform":[{"filter":"datum.p=='metal'&&datum.s=='G'"}],"mark":{"type":"line","strokeWidth":1.6},
"encoding":{"x":{"field":"yr","type":"quantitative","scale":{"domain":[1991.5,2016.4],"nice":false,"zero":false},"axis":{"orient":"top","offset":10.5,"domainWidth":21,"domainColor":"#d7e3e8","domainCap":"butt","ticks":false,"labels":false,"grid":false,"title":"Metal","titleFontSize":15.5,"titleY":0,"titleBaseline":"middle","titleLimit":1000}},
"y":{"field":"v","type":"quantitative","scale":{"domain":[1.534,2.459],"nice":false,"zero":false},"axis":{"orient":"right","values":[1.6,1.8,2,2.2,2.4],"labelExpr":"replace(toString(datum.value),'0.','.')","labelAngle":270,"labelAlign":"center","labelBaseline":"top","labelFontSize":14,"labelOverlap":false,"labelFlush":false,"labelPadding":2,"tickSize":5,"grid":false,"title":null}},
"color":{"field":"s","type":"nominal"},"strokeDash":{"field":"s","type":"nominal"}}}
],"resolve":{"scale":{"y":"independent"},"axis":{"x":"independent"}}},
{"width":157,"height":131,"layer":[
{"data":{"name":"d"},"transform":[{"filter":"datum.p=='trans'&&datum.s=='R'"}],"mark":{"type":"line","strokeWidth":1.6},
"encoding":{"x":{"field":"yr","type":"quantitative","scale":{"domain":[1991.5,2016.4],"nice":false,"zero":false},"axis":{"orient":"bottom","ticks":false,"labels":false,"grid":false,"title":null}},
"y":{"field":"v","type":"quantitative","scale":{"domain":[113,1060],"nice":false,"zero":false},"axis":{"orient":"left","values":[200,400,600,800,1000],"labelExpr":"replace(toString(datum.value),'0.','.')","labelAngle":270,"labelAlign":"center","labelBaseline":"bottom","labelFontSize":14,"labelOverlap":false,"labelFlush":false,"labelPadding":2,"tickSize":5,"grid":true,"gridColor":"#e6eef1","title":null}},
"color":{"field":"s","type":"nominal"},"strokeDash":{"field":"s","type":"nominal"}}},
{"data":{"name":"d"},"transform":[{"filter":"datum.p=='trans'&&datum.s=='G'"}],"mark":{"type":"line","strokeWidth":1.6},
"encoding":{"x":{"field":"yr","type":"quantitative","scale":{"domain":[1991.5,2016.4],"nice":false,"zero":false},"axis":{"orient":"top","offset":10.5,"domainWidth":21,"domainColor":"#d7e3e8","domainCap":"butt","ticks":false,"labels":false,"grid":false,"title":"Other transport equipment","titleFontSize":15.5,"titleY":0,"titleBaseline":"middle","titleLimit":1000}},
"y":{"field":"v","type":"quantitative","scale":{"domain":[1.335,3.647],"nice":false,"zero":false},"axis":{"orient":"right","values":[1.5,2,2.5,3,3.5],"labelExpr":"replace(toString(datum.value),'0.','.')","labelAngle":270,"labelAlign":"center","labelBaseline":"top","labelFontSize":14,"labelOverlap":false,"labelFlush":false,"labelPadding":2,"tickSize":5,"grid":false,"title":null}},
"color":{"field":"s","type":"nominal"},"strokeDash":{"field":"s","type":"nominal"}}}
],"resolve":{"scale":{"y":"independent"},"axis":{"x":"independent"}}},
{"width":157,"height":131,"layer":[
{"data":{"name":"d"},"transform":[{"filter":"datum.p=='paper'&&datum.s=='R'"}],"mark":{"type":"line","strokeWidth":1.6},
"encoding":{"x":{"field":"yr","type":"quantitative","scale":{"domain":[1991.5,2016.4],"nice":false,"zero":false},"axis":{"orient":"bottom","values":[1995,2000,2005,2010,2015],"labelExpr":"toString(datum.value)","labelFontSize":14,"labelOverlap":false,"labelFlush":false,"labelPadding":2,"tickSize":5,"grid":false,"title":"x","titleColor":"rgba(0,0,0,0)","titleFontSize":8,"titlePadding":4}},
"y":{"field":"v","type":"quantitative","scale":{"domain":[66.0,113.5],"nice":false,"zero":false},"axis":{"orient":"left","values":[70,80,90,100,110],"labelExpr":"replace(toString(datum.value),'0.','.')","labelAngle":270,"labelAlign":"center","labelBaseline":"bottom","labelFontSize":14,"labelOverlap":false,"labelFlush":false,"labelPadding":2,"tickSize":5,"grid":true,"gridColor":"#e6eef1","title":null}},
"color":{"field":"s","type":"nominal"},"strokeDash":{"field":"s","type":"nominal"}}},
{"data":{"name":"d"},"transform":[{"filter":"datum.p=='paper'&&datum.s=='G'"}],"mark":{"type":"line","strokeWidth":1.6},
"encoding":{"x":{"field":"yr","type":"quantitative","scale":{"domain":[1991.5,2016.4],"nice":false,"zero":false},"axis":{"orient":"top","offset":10.5,"domainWidth":21,"domainColor":"#d7e3e8","domainCap":"butt","ticks":false,"labels":false,"grid":false,"title":"Paper","titleFontSize":15.5,"titleY":0,"titleBaseline":"middle","titleLimit":1000}},
"y":{"field":"v","type":"quantitative","scale":{"domain":[0.747,1.448],"nice":false,"zero":false},"axis":{"orient":"right","values":[0.8,1,1.2,1.4],"labelExpr":"replace(toString(datum.value),'0.','.')","labelAngle":270,"labelAlign":"center","labelBaseline":"top","labelFontSize":14,"labelOverlap":false,"labelFlush":false,"labelPadding":2,"tickSize":5,"grid":false,"title":null}},
"color":{"field":"s","type":"nominal"},"strokeDash":{"field":"s","type":"nominal"}}}
],"resolve":{"scale":{"y":"independent"},"axis":{"x":"independent"}}}
],"spacing":70,"bounds":"flush"},
{"hconcat":[
{"width":157,"height":126,"layer":[
{"data":{"name":"d"},"transform":[{"filter":"datum.p=='plast'&&datum.s=='R'"}],"mark":{"type":"line","strokeWidth":1.6},
"encoding":{"x":{"field":"yr","type":"quantitative","scale":{"domain":[1991.5,2016.4],"nice":false,"zero":false},"axis":{"orient":"bottom","values":[1995,2000,2005,2010,2015],"labelExpr":"toString(datum.value)","labelFontSize":14,"labelOverlap":false,"labelFlush":false,"labelPadding":2,"tickSize":5,"grid":false,"title":null}},
"y":{"field":"v","type":"quantitative","scale":{"domain":[2447,4110],"nice":false,"zero":false},"axis":{"orient":"left","values":[2500,3000,3500,4000],"labelExpr":"replace(toString(datum.value),'0.','.')","labelAngle":270,"labelAlign":"center","labelBaseline":"bottom","labelFontSize":14,"labelOverlap":false,"labelFlush":false,"labelPadding":2,"tickSize":5,"grid":true,"gridColor":"#e6eef1","title":"x","titleColor":"rgba(0,0,0,0)","titleFontSize":10,"titlePadding":15}},
"color":{"field":"s","type":"nominal"},"strokeDash":{"field":"s","type":"nominal"}}},
{"data":{"name":"d"},"transform":[{"filter":"datum.p=='plast'&&datum.s=='G'"}],"mark":{"type":"line","strokeWidth":1.6},
"encoding":{"x":{"field":"yr","type":"quantitative","scale":{"domain":[1991.5,2016.4],"nice":false,"zero":false},"axis":{"orient":"top","offset":10.5,"domainWidth":21,"domainColor":"#d7e3e8","domainCap":"butt","ticks":false,"labels":false,"grid":false,"title":"Plastic and chemical products","titleFontSize":15.5,"titleY":0,"titleBaseline":"middle","titleLimit":1000}},
"y":{"field":"v","type":"quantitative","scale":{"domain":[0.754,1.446],"nice":false,"zero":false},"axis":{"orient":"right","values":[0.8,1,1.2,1.4],"labelExpr":"replace(toString(datum.value),'0.','.')","labelAngle":270,"labelAlign":"center","labelBaseline":"top","labelFontSize":14,"labelOverlap":false,"labelFlush":false,"labelPadding":2,"tickSize":5,"grid":false,"title":null}},
"color":{"field":"s","type":"nominal"},"strokeDash":{"field":"s","type":"nominal"}}}
],"resolve":{"scale":{"y":"independent"},"axis":{"x":"independent"}}},
{"width":157,"height":126,"layer":[
{"data":{"name":"d"},"transform":[{"filter":"datum.p=='text'&&datum.s=='R'"}],"mark":{"type":"line","strokeWidth":1.6},
"encoding":{"x":{"field":"yr","type":"quantitative","scale":{"domain":[1991.5,2016.4],"nice":false,"zero":false},"axis":{"orient":"bottom","values":[1995,2000,2005,2010,2015],"labelExpr":"toString(datum.value)","labelFontSize":14,"labelOverlap":false,"labelFlush":false,"labelPadding":2,"tickSize":5,"grid":false,"title":"year","titleFontSize":24,"titleX":191,"titlePadding":19}},
"y":{"field":"v","type":"quantitative","scale":{"domain":[-1.06,43.4],"nice":false,"zero":false},"axis":{"orient":"left","values":[0,10,20,30,40],"labelExpr":"replace(toString(datum.value),'0.','.')","labelAngle":270,"labelAlign":"center","labelBaseline":"bottom","labelFontSize":14,"labelOverlap":false,"labelFlush":false,"labelPadding":2,"tickSize":5,"grid":true,"gridColor":"#e6eef1","title":null}},
"color":{"field":"s","type":"nominal"},"strokeDash":{"field":"s","type":"nominal"}}},
{"data":{"name":"d"},"transform":[{"filter":"datum.p=='text'&&datum.s=='G'"}],"mark":{"type":"line","strokeWidth":1.6},
"encoding":{"x":{"field":"yr","type":"quantitative","scale":{"domain":[1991.5,2016.4],"nice":false,"zero":false},"axis":{"orient":"top","offset":10.5,"domainWidth":21,"domainColor":"#d7e3e8","domainCap":"butt","ticks":false,"labels":false,"grid":false,"title":"Textiles","titleFontSize":15.5,"titleY":0,"titleBaseline":"middle","titleLimit":1000}},
"y":{"field":"v","type":"quantitative","scale":{"domain":[-0.827,0.286],"nice":false,"zero":false},"axis":{"orient":"right","values":[-0.8,-0.6,-0.4,-0.2,0,0.2],"labelExpr":"replace(toString(datum.value),'0.','.')","labelAngle":270,"labelAlign":"center","labelBaseline":"top","labelFontSize":14,"labelOverlap":false,"labelFlush":false,"labelPadding":2,"tickSize":5,"grid":false,"title":null}},
"color":{"field":"s","type":"nominal"},"strokeDash":{"field":"s","type":"nominal"}}}
],"resolve":{"scale":{"y":"independent"},"axis":{"x":"independent"}}},
{"width":157,"height":126,"layer":[
{"data":{"name":"d"},"transform":[{"filter":"datum.p=='wood'&&datum.s=='R'"}],"mark":{"type":"line","strokeWidth":1.6},
"encoding":{"x":{"field":"yr","type":"quantitative","scale":{"domain":[1991.5,2016.4],"nice":false,"zero":false},"axis":{"orient":"bottom","values":[1995,2000,2005,2010,2015],"labelExpr":"toString(datum.value)","labelFontSize":14,"labelOverlap":false,"labelFlush":false,"labelPadding":2,"tickSize":5,"grid":false,"title":null}},
"y":{"field":"v","type":"quantitative","scale":{"domain":[-40,1633],"nice":false,"zero":false},"axis":{"orient":"left","values":[0,500,1000,1500],"labelExpr":"replace(toString(datum.value),'0.','.')","labelAngle":270,"labelAlign":"center","labelBaseline":"bottom","labelFontSize":14,"labelOverlap":false,"labelFlush":false,"labelPadding":2,"tickSize":5,"grid":true,"gridColor":"#e6eef1","title":null}},
"color":{"field":"s","type":"nominal"},"strokeDash":{"field":"s","type":"nominal"}}},
{"data":{"name":"d"},"transform":[{"filter":"datum.p=='wood'&&datum.s=='G'"}],"mark":{"type":"line","strokeWidth":1.6},
"encoding":{"x":{"field":"yr","type":"quantitative","scale":{"domain":[1991.5,2016.4],"nice":false,"zero":false},"axis":{"orient":"top","offset":10.5,"domainWidth":21,"domainColor":"#d7e3e8","domainCap":"butt","ticks":false,"labels":false,"grid":false,"title":"Wood & furniture","titleFontSize":15.5,"titleY":0,"titleBaseline":"middle","titleLimit":1000}},
"y":{"field":"v","type":"quantitative","scale":{"domain":[0.9385,1.5485],"nice":false,"zero":false},"axis":{"orient":"right","values":[1,1.1,1.2,1.3,1.4,1.5],"labelExpr":"replace(toString(datum.value),'0.','.')","labelAngle":270,"labelAlign":"center","labelBaseline":"top","labelFontSize":14,"labelOverlap":false,"labelFlush":false,"labelPadding":2,"tickSize":5,"grid":false,"title":null}},
"color":{"field":"s","type":"nominal"},"strokeDash":{"field":"s","type":"nominal"}}}
],"resolve":{"scale":{"y":"independent"},"axis":{"x":"independent"}}}
],"spacing":70,"bounds":"flush"}
]
}
